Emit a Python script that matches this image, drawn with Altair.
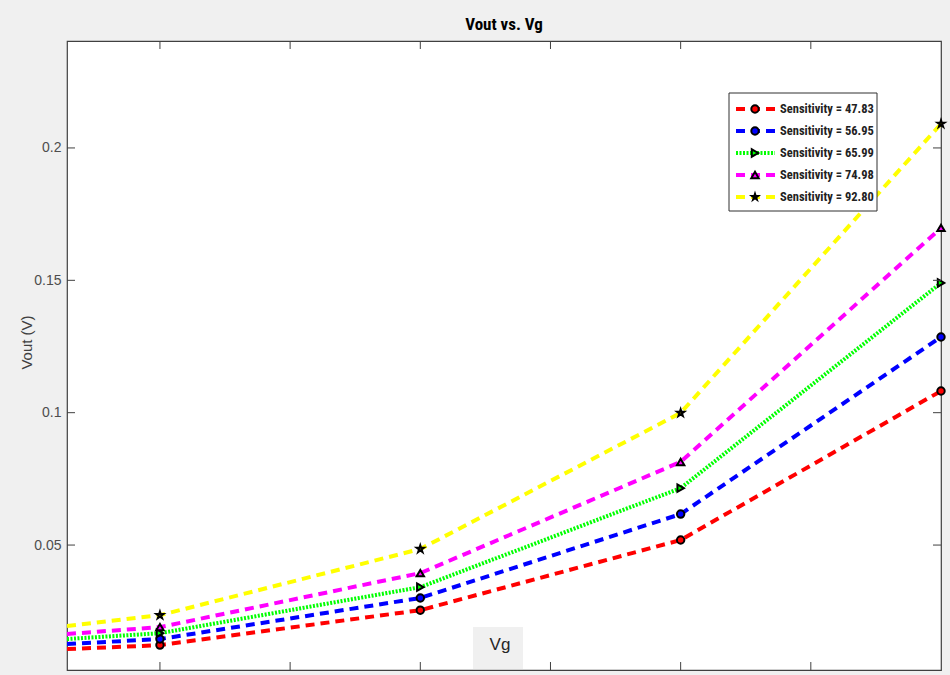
import altair as alt
import pandas as pd

# ---- data ----
series = ["Sensitivity = 47.83", "Sensitivity = 56.95", "Sensitivity = 65.99",
          "Sensitivity = 74.98", "Sensitivity = 92.80"]
colors = ["#ff0000", "#0000ff", "#00ff00", "#ff00ff", "#ffff00"]
vg = [0.286, 1, 3, 5, 7]
vout_4783 = [0.0107, 0.0122, 0.0254, 0.0519, 0.1082]
vout_5695 = [0.0126, 0.0145, 0.0300, 0.0617, 0.1286]
vout_6599 = [0.0145, 0.0167, 0.0341, 0.0715, 0.1490]
vout_7498 = [0.0164, 0.0190, 0.0394, 0.0814, 0.1698]
vout_9280 = [0.0194, 0.0235, 0.0485, 0.0999, 0.2091]
has_marker = [False, True, True, True, True]
y_ticks = [0.05, 0.1, 0.15, 0.2]
x_ticks = [1, 2, 3, 4, 5, 6]

STAR = ("M0,-1L0.2245,-0.309L0.951,-0.309L0.363,0.118L0.588,0.809L0,0.382"
        "L-0.588,0.809L-0.363,0.118L-0.951,-0.309L-0.2245,-0.309Z")
shapes = ["circle", "circle", "triangle-right", "triangle-up", STAR]
sizes = [55, 55, 55, 55, 40]
dashes = [[9, 6], [9, 6], [2, 1.5], [9, 6], [9, 6]]

all_vals = [vout_4783, vout_5695, vout_6599, vout_7498, vout_9280]
rows = []
for s, vals in zip(series, all_vals):
    for x, v, m in zip(vg, vals, has_marker):
        rows.append({"series": s, "Vg": x, "Vout": v, "marker": m})
df = pd.DataFrame(rows)

W, H = 874, 629
NARROW = "Liberation Sans Narrow, Arial Narrow, Roboto Condensed, sans-serif"
SANS = "Liberation Sans, Arial, Helvetica, sans-serif"

xscale = alt.Scale(domain=[0.286, 7], nice=False, zero=False)
yscale = alt.Scale(domain=[0.0028, 0.2404], nice=False, zero=False)
x_enc = alt.X("Vg:Q", scale=xscale, axis=None)
y_enc = alt.Y("Vout:Q", scale=yscale,
              axis=alt.Axis(values=y_ticks, format="~g", ticks=False, domain=False, grid=False,
                            labelFont=SANS, labelFontSize=14, labelColor="#4d4d4d", labelPadding=6,
                            title="Vout (V)", titleFont=SANS, titleFontSize=15,
                            titleFontWeight="normal", titleColor="#404040",
                            titleX=-33, titleY=301))
stroke_enc = alt.Stroke("series:N", scale=alt.Scale(domain=series, range=colors), legend=None)
dash_enc = alt.StrokeDash("series:N", scale=alt.Scale(domain=series, range=dashes), legend=None)

lines = alt.Chart(df).mark_line(strokeWidth=4, strokeCap="butt", clip=True).encode(
    x=x_enc, y=y_enc, stroke=stroke_enc, strokeDash=dash_enc, detail="series:N")

points = alt.Chart(df).transform_filter("datum.marker").mark_point(
    filled=False, stroke="black", strokeWidth=2, opacity=1).encode(
    x=x_enc, y=alt.Y("Vout:Q", scale=yscale),
    fill=alt.Fill("series:N", scale=alt.Scale(domain=series, range=colors), legend=None),
    shape=alt.Shape("series:N", scale=alt.Scale(domain=series, range=shapes), legend=None),
    size=alt.Size("series:N", scale=alt.Scale(domain=series, range=sizes), legend=None))

# inward ticks (MATLAB style box)
ydf = pd.DataFrame({"t": y_ticks})
xdf = pd.DataFrame({"t": x_ticks})
tick_col = "#404040"
lt = alt.Chart(ydf).mark_rule(color=tick_col).encode(
    y=alt.Y("t:Q", scale=yscale), x=alt.value(0), x2=alt.value(8))
rt = alt.Chart(ydf).mark_rule(color=tick_col).encode(
    y=alt.Y("t:Q", scale=yscale), x=alt.value(W - 8), x2=alt.value(W))
tt = alt.Chart(xdf).mark_rule(color=tick_col).encode(
    x=alt.X("t:Q", scale=xscale), y=alt.value(0), y2=alt.value(8))
bt = alt.Chart(xdf).mark_rule(color=tick_col).encode(
    x=alt.X("t:Q", scale=xscale), y=alt.value(H - 8), y2=alt.value(H))

one = pd.DataFrame({"a": [0]})
# title
title_txt = alt.Chart(one).mark_text(text="Vout vs. Vg", font=NARROW, fontSize=17,
                                     fontWeight="bold", color="#000000", align="center",
                                     baseline="alphabetic").encode(
    x=alt.value(W / 2), y=alt.value(-11))

# x label drawn in a grey box like the reference
vg_box = alt.Chart(one).mark_rect(color="#f0f0f0").encode(
    x=alt.value(406), x2=alt.value(456), y=alt.value(586), y2=alt.value(H - 1))
vg_txt = alt.Chart(one).mark_text(text="Vg", font=SANS, fontSize=17, color="#262626",
                                  align="center", baseline="middle").encode(
    x=alt.value(433), y=alt.value(604))

# custom legend
LX0, LY0 = 662, 52
leg_box = alt.Chart(one).mark_rect(fill="white", stroke="#303030", strokeWidth=1).encode(
    x=alt.value(LX0), x2=alt.value(810), y=alt.value(LY0), y2=alt.value(170))
leg_layers = [leg_box]
for i, (s, c, sh, d, sz) in enumerate(zip(series, colors, shapes, dashes, sizes)):
    yy = 68 + 22 * i
    leg_layers.append(alt.Chart(one).mark_rule(color=c, strokeWidth=4, strokeDash=d,
                                                strokeCap="butt").encode(
        x=alt.value(669), x2=alt.value(708), y=alt.value(yy)))
    leg_layers.append(alt.Chart(one).mark_point(shape=sh, fill=c, stroke="black",
                                                 strokeWidth=2, size=sz, opacity=1).encode(
        x=alt.value(688), y=alt.value(yy)))
    leg_layers.append(alt.Chart(one).mark_text(text=s, font=NARROW, fontSize=12.5,
                                                fontWeight="bold", color="#222222",
                                                align="left", baseline="middle").encode(
        x=alt.value(713), y=alt.value(yy)))

chart = alt.layer(lines, points, lt, rt, tt, bt, vg_box, vg_txt, title_txt,
                  *leg_layers).properties(
    width=W, height=H,
    autosize=alt.AutoSizeParams(type="none"),
    padding={"left": 67, "top": 41, "right": 9, "bottom": 5},
).configure(background="#f0f0f0").configure_view(
    fill="white", stroke="#404040", strokeWidth=1.2)

chart.save("out.html", embed_options={"renderer": "svg", "actions": False})
